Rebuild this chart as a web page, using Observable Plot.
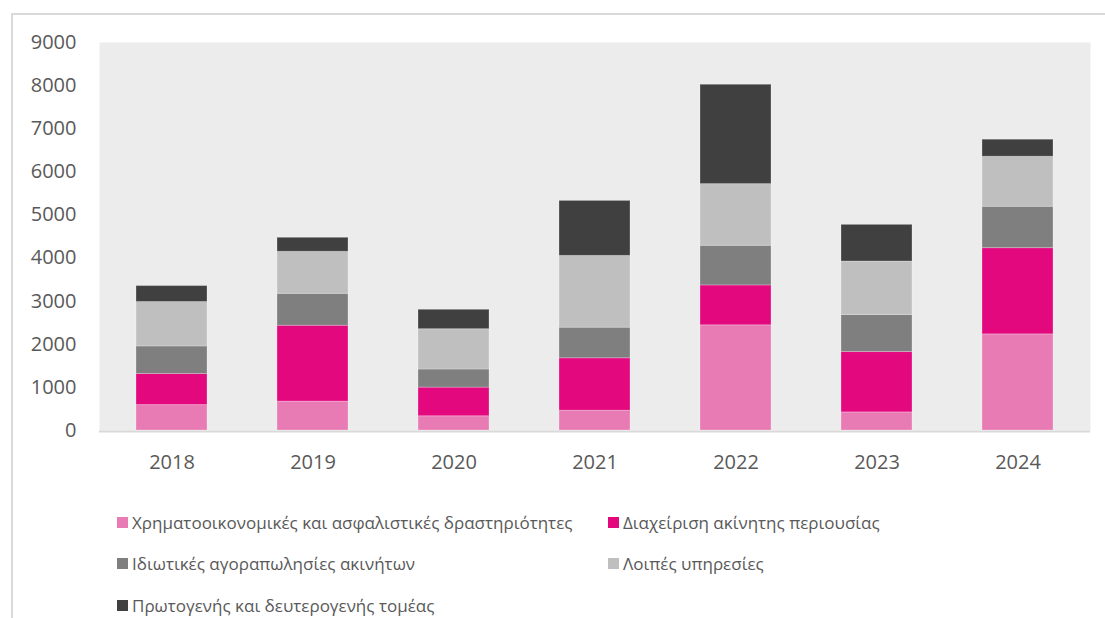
<!DOCTYPE html>
<html>
<head>
<meta charset="utf-8">
<script src="https://cdn.jsdelivr.net/npm/d3@7"></script>
<script src="https://cdn.jsdelivr.net/npm/@observablehq/plot@0.6"></script>
<style>
  html, body { margin: 0; padding: 0; background: #fff; }
  body { width: 1105px; height: 618px; overflow: hidden; position: relative; font-family: "Open Sans", "Noto Sans", sans-serif; }
  #frame { position: absolute; left: 11px; top: 13px; right: 0; bottom: 0; border-left: 2px solid #d9d9d9; border-top: 2px solid #d9d9d9; }
  #chart { position: absolute; left: 0; top: 0; }
  #legend { position: absolute; left: 0; top: 0; width: 1105px; height: 618px; pointer-events: none; }
  .item { position: absolute; display: flex; align-items: center; font-size: 17px; color: #595959; white-space: nowrap; height: 20px; }
  .sw { width: 11px; height: 11px; margin-right: 4px; flex: none; }
</style>
</head>
<body>
<div id="frame"></div>
<div id="chart"></div>
<div id="legend"></div>
<script>
const years = ["2018", "2019", "2020", "2021", "2022", "2023", "2024"];
const seriesNames = [
  "Χρηματοοικονομικές και ασφαλιστικές δραστηριότητες",
  "Διαχείριση ακίνητης περιουσίας",
  "Ιδιωτικές αγοραπωλησίες ακινήτων",
  "Λοιπές υπηρεσίες",
  "Πρωτογενής και δευτερογενής τομέας"
];
const seriesColors = ["#e97bb4", "#e4087f", "#7f7f7f", "#bfbfbf", "#404040"];
const financeValues = [590, 670, 330, 460, 2440, 420, 2230];
const propertyMgmtValues = [720, 1760, 665, 1215, 925, 1400, 2000];
const privateSalesValues = [640, 740, 420, 710, 920, 860, 960];
const otherServicesValues = [1030, 975, 935, 1665, 1430, 1240, 1160];
const primarySecondaryValues = [370, 325, 450, 1275, 2305, 850, 395];
const yTicks = [0, 1000, 2000, 3000, 4000, 5000, 6000, 7000, 8000, 9000];

const seriesValues = [financeValues, propertyMgmtValues, privateSalesValues, otherServicesValues, primarySecondaryValues];
const data = [];
seriesNames.forEach((s, i) => {
  years.forEach((y, j) => data.push({year: y, series: s, value: seriesValues[i][j]}));
});

const chart = Plot.plot({
  width: 1105,
  height: 480,
  marginLeft: 99,
  marginRight: 15,
  marginTop: 42,
  marginBottom: 50,
  style: {fontFamily: "'Open Sans', 'Noto Sans', sans-serif", background: "transparent"},
  x: {type: "band", domain: years, paddingInner: 0.5, paddingOuter: 0.25, label: null},
  y: {domain: [0, 9000], label: null},
  color: {domain: seriesNames, range: seriesColors},
  marks: [
    Plot.frame({fill: "#ececec", stroke: null}),
    Plot.barY(data, {x: "year", y: "value", fill: "series", order: seriesNames, stroke: "#ffffff", strokeOpacity: 0.25, strokeWidth: 1}),
    Plot.ruleY([0], {stroke: "#d9d9d9", strokeWidth: 2, dy: 1}),
    Plot.axisY({ticks: yTicks, tickSize: 0, tickPadding: 23, fontSize: 20, fill: "#595959", tickFormat: d => String(d)}),
    Plot.axisX({tickSize: 0, tickPadding: 24, fontSize: 20, fill: "#595959"})
  ]
});
document.getElementById("chart").appendChild(chart);

const legendPos = [
  {x: 117, y: 522}, {x: 608, y: 522},
  {x: 117, y: 563}, {x: 608, y: 563},
  {x: 117, y: 605}
];
const legend = document.getElementById("legend");
seriesNames.forEach((s, i) => {
  const it = document.createElement("div");
  it.className = "item";
  it.style.left = legendPos[i].x + "px";
  it.style.top = (legendPos[i].y - 10) + "px";
  const sw = document.createElement("span");
  sw.className = "sw";
  sw.style.background = seriesColors[i];
  const tx = document.createElement("span");
  tx.textContent = s;
  it.appendChild(sw);
  it.appendChild(tx);
  legend.appendChild(it);
});
</script>
</body>
</html>
